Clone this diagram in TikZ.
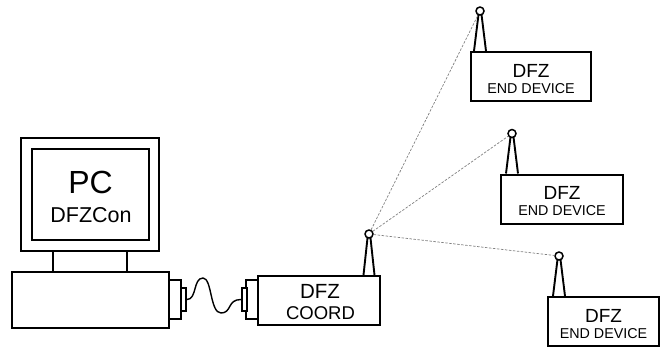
\documentclass[tikz,border=0pt]{standalone}
\usepackage{fontspec}
\setmainfont{Liberation Sans}
\usetikzlibrary{calc}

\begin{document}
\begin{tikzpicture}[x=1pt, y=-1pt,
  box/.style={draw, line width=2pt, inner sep=0pt, fill=white},
  tip/.style={draw, circle, line width=1.5pt, minimum size=8pt, inner sep=0pt, fill=white},
  leg/.style={line width=1.9pt},
  link/.style={gray, line width=0.7pt, dash pattern=on 2.5pt off 1.5pt},
  txt/.style={anchor=base, inner sep=0pt}]
  \useasboundingbox (0,0) rectangle (661,349);

  % computer
  \node[box, minimum width=138, minimum height=113] (monitor) at (90,194.5) {};
  \node[box, minimum width=117, minimum height=91] (screen) at (90.5,194.5) {};
  \node[txt, font=\fontsize{32}{32}\selectfont] at ($(screen.center)+(0,-1.5)$) {PC};
  \node[txt, font=\fontsize{21.5}{22}\selectfont] at ($(screen.center)+(0.5,27.5)$) {DFZCon};
  \node[box, minimum width=157, minimum height=56] (pcbase) at (90.5,300) {};
  \draw[leg] ($(monitor.south)+(-37,0)$) -- ++(0,21);
  \draw[leg] ($(monitor.south)+(37,0)$) -- ++(0,21);
  \node[box, minimum width=12, minimum height=39] (pcplug) at (175,299.5) {};
  \node[box, minimum width=5, minimum height=23] (pcpin) at (183.5,299.5) {};

  % coordinator
  \node[box, minimum width=122, minimum height=49] (coord) at (319,300.5) {};
  \node[txt, font=\fontsize{20.5}{21}\selectfont] at ($(coord.center)+(1,-2)$) {DFZ};
  \node[txt, font=\fontsize{18.5}{19}\selectfont] at ($(coord.center)+(1.5,18.5)$) {COORD};
  \node[box, minimum width=12, minimum height=39] (cplug) at (252,299.5) {};
  \node[box, minimum width=5, minimum height=23] (cpin) at (244.5,299.5) {};
  \draw[leg] ($(369,0 |- coord.north)+(-5.5,0)$) -- (367.5,238);
  \draw[leg] ($(369,0 |- coord.north)+(5.5,0)$) -- (370.5,238);
  \node[tip] (t0) at (369,234) {};

  % serial cable
  \draw[line width=1.4pt] (pcpin.east) .. controls (197,299.5) and (193,278) .. (203,278)
    .. controls (212,278) and (210,313) .. (221,313)
    .. controls (232,313) and (227,299.5) .. (cpin.west);

  % end devices
  \foreach \i/\x/\y/\w/\a in {1/531/76.5/120/480, 2/562/199/122/512, 3/603.5/321.5/111/559} {
    \node[box, minimum width=\w, minimum height=49] (ed\i) at (\x,\y) {};
    \node[txt, font=\fontsize{19}{19}\selectfont] at ($(ed\i.center)+(0,0.5)$) {DFZ};
    \node[txt, font=\fontsize{14.3}{15}\selectfont] at ($(ed\i.center)+(0,16.5)$) {END DEVICE};
    \draw[leg] ($(\a,0 |- ed\i.north)+(-6,0)$) -- (\a-1.5,{\y-62});
    \draw[leg] ($(\a,0 |- ed\i.north)+(6,0)$) -- (\a+1.5,{\y-62});
    \node[tip] (t\i) at (\a,{\y-65.5}) {};
  }

  % radio links
  \foreach \i in {1,2,3}
    \draw[link] (t0) -- (t\i);
\end{tikzpicture}
\end{document}
